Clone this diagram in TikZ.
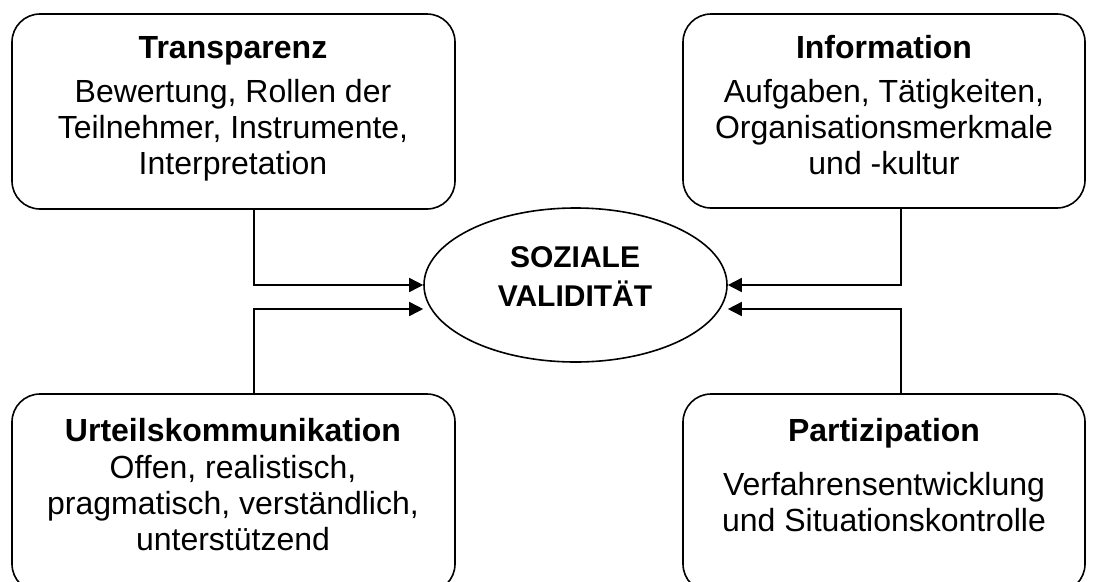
\documentclass[tikz,border=0pt]{standalone}
\usepackage{fontspec}
\setmainfont{Liberation Sans}
\usetikzlibrary{shapes.geometric,arrows.meta}
\begin{document}
\begin{tikzpicture}[x=1pt,y=-1pt,
  box/.style={draw,line width=1.6pt,rounded corners=28pt,inner sep=0pt},
  ttl/.style={font=\fontsize{32}{36}\selectfont\bfseries,anchor=base,inner sep=0pt},
  body/.style={font=\fontsize{32}{36}\selectfont,anchor=base,inner sep=0pt},
  arr/.style={line width=1.6pt,-{Triangle[length=14pt,width=14pt]}}]
\useasboundingbox (0,0) rectangle (1097,581);
% boxes
\draw[box] (12,14) rectangle (455,209);
\node[inner sep=0pt,minimum width=443pt,minimum height=195pt] (tl) at (233.5,111.5) {};
\draw[box] (683,14) rectangle (1085,208);
\node[inner sep=0pt,minimum width=402pt,minimum height=194pt] (tr) at (884,111) {};
\draw[box] (12,394) rectangle (455,592);
\node[inner sep=0pt,minimum width=443pt,minimum height=198pt] (bl) at (233.5,493) {};
\draw[box] (683,394) rectangle (1085,592);
\node[inner sep=0pt,minimum width=402pt,minimum height=198pt] (br) at (884,493) {};
% ellipse
\node[draw,ellipse,line width=1.6pt,minimum width=303pt,minimum height=154pt,inner sep=0pt] (ell) at (575.5,285) {};
\node[font=\fontsize{30}{38.5}\selectfont\bfseries,align=center,inner sep=0pt,anchor=base] (soz) at (575,306) {SOZIALE\\VALIDITÄT};
% texts
\node[ttl] (t1) at (233,58) {Transparenz};
\node[body] at (233,102) {Bewertung, Rollen der};
\node[body] at (233,138) {Teilnehmer, Instrumente,};
\node[body] at (233,174) {Interpretation};
\node[ttl] (t2) at (884,58) {Information};
\node[body] at (884,102) {Aufgaben, Tätigkeiten,};
\node[body] at (884,138) {Organisationsmerkmale};
\node[body] at (884,174) {und -kultur};
\node[ttl] (t3) at (233,441) {Urteilskommunikation};
\node[body] at (233,478) {Offen, realistisch,};
\node[body] at (233,514) {pragmatisch, verständlich,};
\node[body] at (233,550) {unterstützend};
\node[ttl] (t4) at (884,441) {Partizipation};
\node[body] at (884,495) {Verfahrensentwicklung};
\node[body] at (884,531) {und Situationskontrolle};
% connectors
\coordinate (vl) at (254,0);
\coordinate (vr) at (901,0);
\coordinate (ya) at (0,285);
\coordinate (yb) at (0,309);
\draw[arr] (tl.south -| vl) |- (ell.west |- ya);
\draw[arr] (bl.north -| vl) |- (ell.west |- yb);
\draw[arr] (tr.south -| vr) |- (ell.east |- ya);
\draw[arr] (br.north -| vr) |- (ell.east |- yb);
\end{tikzpicture}
\end{document}
